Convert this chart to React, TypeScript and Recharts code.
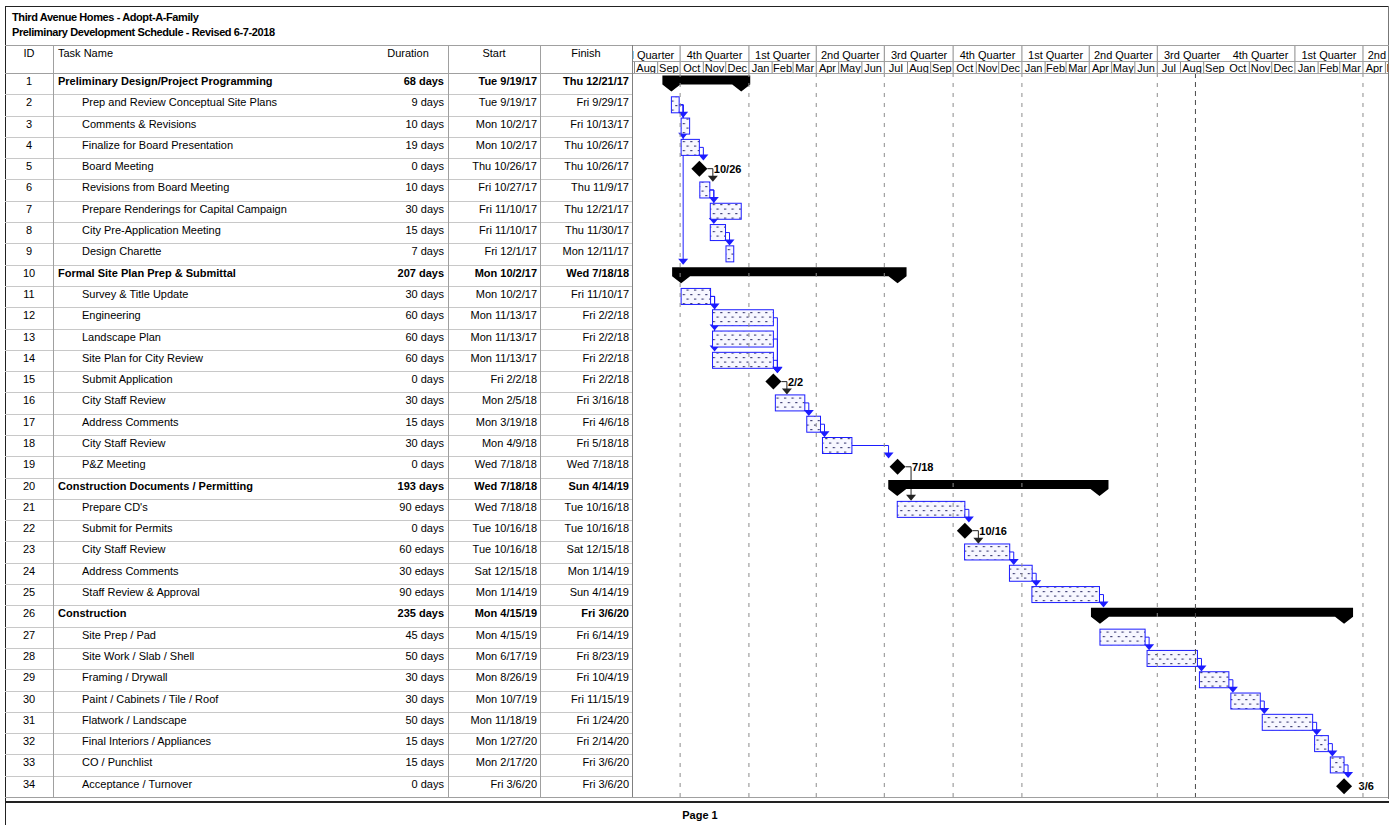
import React from 'react';
import { BarChart, Bar, XAxis, YAxis, ReferenceLine } from 'recharts';

const FONT = '"Liberation Sans", Arial, Helvetica, sans-serif';

const titleLines = ['Third Avenue Homes - Adopt-A-Family', 'Preliminary Development Schedule - Revised 6-7-2018'];
const columnHeaders = ['ID', 'Task Name', 'Duration', 'Start', 'Finish'];
const footerText = 'Page 1';

const taskIds = [1, 2, 3, 4, 5, 6, 7, 8, 9, 10, 11, 12, 13, 14, 15, 16, 17, 18, 19, 20, 21, 22, 23, 24, 25, 26, 27, 28, 29, 30, 31, 32, 33, 34];

const taskNames = [
  'Preliminary Design/Project Programming',
  'Prep and Review Conceptual Site Plans',
  'Comments & Revisions',
  'Finalize for Board Presentation',
  'Board Meeting',
  'Revisions from Board Meeting',
  'Prepare Renderings for Capital Campaign',
  'City Pre-Application Meeting',
  'Design Charette',
  'Formal Site Plan Prep & Submittal',
  'Survey & Title Update',
  'Engineering',
  'Landscape Plan',
  'Site Plan for City Review',
  'Submit Application',
  'City Staff Review',
  'Address Comments',
  'City Staff Review',
  'P&Z Meeting',
  'Construction Documents / Permitting',
  "Prepare CD's",
  'Submit for Permits',
  'City Staff Review',
  'Address Comments',
  'Staff Review & Approval',
  'Construction',
  'Site Prep / Pad',
  'Site Work / Slab / Shell',
  'Framing / Drywall',
  'Paint / Cabinets / Tile / Roof',
  'Flatwork / Landscape',
  'Final Interiors / Appliances',
  'CO / Punchlist',
  'Acceptance / Turnover',
];

const taskKinds = [
  'summary', 'task', 'task', 'task', 'milestone', 'task', 'task', 'task', 'task',
  'summary', 'task', 'task', 'task', 'task', 'milestone', 'task', 'task', 'task', 'milestone',
  'summary', 'task', 'milestone', 'task', 'task', 'task',
  'summary', 'task', 'task', 'task', 'task', 'task', 'task', 'task', 'milestone',
];

const durations = [
  '68 days', '9 days', '10 days', '19 days', '0 days', '10 days', '30 days', '15 days', '7 days',
  '207 days', '30 days', '60 days', '60 days', '60 days', '0 days', '30 days', '15 days', '30 days', '0 days',
  '193 days', '90 edays', '0 days', '60 edays', '30 edays', '90 edays',
  '235 days', '45 days', '50 days', '30 days', '30 days', '50 days', '15 days', '15 days', '0 days',
];

const startLabels = [
  'Tue 9/19/17', 'Tue 9/19/17', 'Mon 10/2/17', 'Mon 10/2/17', 'Thu 10/26/17', 'Fri 10/27/17', 'Fri 11/10/17', 'Fri 11/10/17', 'Fri 12/1/17',
  'Mon 10/2/17', 'Mon 10/2/17', 'Mon 11/13/17', 'Mon 11/13/17', 'Mon 11/13/17', 'Fri 2/2/18', 'Mon 2/5/18', 'Mon 3/19/18', 'Mon 4/9/18', 'Wed 7/18/18',
  'Wed 7/18/18', 'Wed 7/18/18', 'Tue 10/16/18', 'Tue 10/16/18', 'Sat 12/15/18', 'Mon 1/14/19',
  'Mon 4/15/19', 'Mon 4/15/19', 'Mon 6/17/19', 'Mon 8/26/19', 'Mon 10/7/19', 'Mon 11/18/19', 'Mon 1/27/20', 'Mon 2/17/20', 'Fri 3/6/20',
];

const finishLabels = [
  'Thu 12/21/17', 'Fri 9/29/17', 'Fri 10/13/17', 'Thu 10/26/17', 'Thu 10/26/17', 'Thu 11/9/17', 'Thu 12/21/17', 'Thu 11/30/17', 'Mon 12/11/17',
  'Wed 7/18/18', 'Fri 11/10/17', 'Fri 2/2/18', 'Fri 2/2/18', 'Fri 2/2/18', 'Fri 2/2/18', 'Fri 3/16/18', 'Fri 4/6/18', 'Fri 5/18/18', 'Wed 7/18/18',
  'Sun 4/14/19', 'Tue 10/16/18', 'Tue 10/16/18', 'Sat 12/15/18', 'Mon 1/14/19', 'Sun 4/14/19',
  'Fri 3/6/20', 'Fri 6/14/19', 'Fri 8/23/19', 'Fri 10/4/19', 'Fri 11/15/19', 'Fri 1/24/20', 'Fri 2/14/20', 'Fri 3/6/20', 'Fri 3/6/20',
];

// finish-to-start links: [predecessor id, successor id]
const links: Array<[number, number]> = [
  [2, 3], [2, 4], [2, 10], [4, 5], [5, 6], [6, 7], [6, 8], [8, 9],
  [11, 12], [11, 13], [11, 14], [12, 15], [13, 15], [14, 15], [15, 16], [16, 17], [17, 18], [18, 19],
  [19, 21], [21, 22], [22, 23], [23, 24], [24, 25], [25, 26],
  [27, 28], [28, 29], [29, 30], [30, 31], [31, 32], [32, 33], [33, 34],
];

// timescale
const domainStartLabel = '7/30/17';
const domainEndLabel = '7/17/20';
const monthStarts = [
  '8/1/17', '9/1/17', '10/1/17', '11/1/17', '12/1/17',
  '1/1/18', '2/1/18', '3/1/18', '4/1/18', '5/1/18', '6/1/18', '7/1/18', '8/1/18', '9/1/18', '10/1/18', '11/1/18', '12/1/18',
  '1/1/19', '2/1/19', '3/1/19', '4/1/19', '5/1/19', '6/1/19', '7/1/19', '8/1/19', '9/1/19', '10/1/19', '11/1/19', '12/1/19',
  '1/1/20', '2/1/20', '3/1/20', '4/1/20', '5/1/20', '6/1/20', '7/1/20',
];
const monthNames = ['Jan', 'Feb', 'Mar', 'Apr', 'May', 'Jun', 'Jul', 'Aug', 'Sep', 'Oct', 'Nov', 'Dec'];
const quarterNames = ['1st Quarter', '2nd Quarter', '3rd Quarter', '4th Quarter'];
const hiddenDividers = ['10/1/19'];
const gridLineDates = ['10/1/17', '1/1/18', '4/1/18', '7/1/18', '10/1/18', '1/1/19', '7/1/19', '4/1/20'];
const pageBreakDate = '8/21/19';

function dayOf(label: string): number {
  const parts = label.trim().split(' ');
  const [m, d, y] = parts[parts.length - 1].split('/').map(Number);
  return Date.UTC(2000 + y, m - 1, d) / 86400000;
}

const D0 = dayOf(domainStartLabel);
const D1 = dayOf(domainEndLabel);
const key = (v: number) => Math.round(v * 1000);

type TickInfo = { kind: 'start'; quarter: boolean; hidden: boolean } | { kind: 'mid'; label: string; quarterLabel: string | null };
const tickInfo = new Map<number, TickInfo>();
const tickValues: number[] = [];
monthStarts.forEach((s, i) => {
  const v = dayOf(s);
  const m = Number(s.split('/')[0]);
  const hidden = hiddenDividers.includes(s);
  tickValues.push(v);
  tickInfo.set(key(v), { kind: 'start', quarter: (m - 1) % 3 === 0, hidden });
  if (i < monthStarts.length - 1) {
    const mid = (v + dayOf(monthStarts[i + 1])) / 2;
    tickValues.push(mid);
    tickInfo.set(key(mid), {
      kind: 'mid',
      label: monthNames[m - 1],
      quarterLabel: (m - 1) % 3 === 1 ? quarterNames[Math.floor((m - 1) / 3)] : null,
    });
  }
});
const gridDays = gridLineDates.map(dayOf);
const pageBreakDay = dayOf(pageBreakDate);

// layout constants
const TABLE_TOP = 73;
const TABLE_BOTTOM = 797;
const ROW_H = (TABLE_BOTTOM - TABLE_TOP) / taskIds.length;

type Out = { offset: number; succPos: number; succKind: string };
const rows = taskIds.map((id, i) => {
  const kind = taskKinds[i];
  const s = dayOf(startLabels[i]) + 0.33;
  const f = dayOf(finishLabels[i]) + 0.71;
  return {
    id: String(id),
    idx: i,
    kind,
    start: kind === 'milestone' ? f : s,
    finish: f,
    range: kind === 'milestone' ? [f, f] : [s, f],
    label: finishLabels[i].split(' ')[1].split('/').slice(0, 2).join('/'),
    outs: [] as Out[],
  };
});
links.forEach(([p, q]) => {
  const pi = taskIds.indexOf(p);
  const qi = taskIds.indexOf(q);
  rows[pi].outs.push({ offset: qi - pi, succPos: rows[qi].start, succKind: rows[qi].kind });
});

const BLUE = '#1c1cff';

function RowShape(props: any) {
  const { x, y, width, height, payload } = props;
  if (x == null || y == null || !payload) return <g />;
  const rowH = height;
  const cy = y + rowH / 2;
  const kind = payload.kind;
  const linkEls = (payload.outs as Out[]).map((o, k) => {
    const tipY = y + o.offset * rowH + 2.5;
    let sx: number;
    let vx: number;
    let color: string;
    if (kind === 'milestone') {
      sx = x + 8;
      vx = x + 13.5;
      color = '#222';
    } else {
      sx = x + width;
      const ppd = width / (payload.finish - payload.start);
      const succX = x + (o.succPos - payload.start) * ppd;
      vx = Math.max(sx + 4, succX + (o.succKind === 'milestone' ? -9 : 2));
      color = BLUE;
    }
    return (
      <g key={k}>
        <path d={`M${sx},${cy} H${vx} V${tipY - 5}`} stroke={color} strokeWidth={1} fill="none" />
        <polygon points={`${vx - 5},${tipY - 6} ${vx + 5},${tipY - 6} ${vx},${tipY}`} fill={color} />
      </g>
    );
  });

  let mark: React.ReactNode = null;
  if (kind === 'summary') {
    const x2 = x + width;
    const t = y + 2.5;
    const b = t + 9;
    const a = y + 18.5;
    mark = (
      <polygon
        points={`${x - 9},${t} ${x2 + 9},${t} ${x2 + 9},${b} ${x2},${a} ${x2 - 9},${b} ${x + 9},${b} ${x},${a} ${x - 9},${b}`}
        fill="#000"
      />
    );
  } else if (kind === 'milestone') {
    mark = (
      <g>
        <polygon points={`${x},${cy - 8} ${x + 8},${cy} ${x},${cy + 8} ${x - 8},${cy}`} fill="#000" />
        <text x={x + 14.5} y={cy + 4} fontFamily={FONT} fontSize={11} fontWeight="bold" fill="#000">
          {payload.label}
        </text>
      </g>
    );
  } else {
    mark = (
      <rect x={x} y={cy - 8} width={width} height={16} fill="url(#taskDots)" stroke={BLUE} strokeWidth={1} />
    );
  }
  return (
    <g>
      {mark}
      {linkEls}
    </g>
  );
}

function HeaderTick(props: any) {
  const { x, payload } = props;
  const info = tickInfo.get(key(payload.value));
  if (!info) return <g />;
  if (info.kind === 'start') {
    if (info.hidden) return <g />;
    return (
      <g>
        <line x1={x} x2={x} y1={16} y2={28} stroke="#8a8a8a" />
        {info.quarter && <line x1={x} x2={x} y1={0} y2={16} stroke="#8a8a8a" />}
      </g>
    );
  }
  return (
    <g>
      <text x={x} y={26.5} textAnchor="middle" fontFamily={FONT} fontSize={11} fill="#000">
        {info.label}
      </text>
      {info.quarterLabel && (
        <text x={x} y={14} textAnchor="middle" fontFamily={FONT} fontSize={11} fill="#000">
          {info.quarterLabel}
        </text>
      )}
    </g>
  );
}

function HLine({ x1, x2, y, color, h = 1 }: { x1: number; x2: number; y: number; color: string; h?: number }) {
  return <div style={{ position: 'absolute', left: x1, top: y, width: x2 - x1, height: h, background: color }} />;
}
function VLine({ x, y1, y2, color }: { x: number; y1: number; y2: number; color: string }) {
  return <div style={{ position: 'absolute', left: x, top: y1, width: 1, height: y2 - y1, background: color }} />;
}

const cellBase: React.CSSProperties = {
  position: 'absolute',
  fontFamily: FONT,
  fontSize: 11,
  lineHeight: '16px',
  whiteSpace: 'nowrap',
  color: '#000',
};

export default function App() {
  return (
    <div style={{ position: 'absolute', left: 0, top: 0, width: 1390, height: 825, background: '#fff', overflow: 'hidden' }}>
      {/* title */}
      <div style={{ ...cellBase, left: 12, top: 9, fontWeight: 'bold', letterSpacing: '-0.4px' }}>{titleLines[0]}</div>
      <div style={{ ...cellBase, left: 12, top: 23.5, fontWeight: 'bold', letterSpacing: '-0.4px' }}>{titleLines[1]}</div>

      {/* column headers */}
      <div style={{ ...cellBase, left: 5, top: 45, width: 48, textAlign: 'center' }}>{columnHeaders[0]}</div>
      <div style={{ ...cellBase, left: 58, top: 45 }}>{columnHeaders[1]}</div>
      <div style={{ ...cellBase, left: 368, top: 45, width: 80, textAlign: 'center' }}>{columnHeaders[2]}</div>
      <div style={{ ...cellBase, left: 448, top: 45, width: 92, textAlign: 'center' }}>{columnHeaders[3]}</div>
      <div style={{ ...cellBase, left: 540, top: 45, width: 92, textAlign: 'center' }}>{columnHeaders[4]}</div>

      {/* table rows */}
      {rows.map((r, i) => {
        const top = TABLE_TOP + i * ROW_H;
        const bold = r.kind === 'summary' ? 'bold' : 'normal';
        return (
          <React.Fragment key={r.id}>
            <div style={{ ...cellBase, left: 5, top, width: 48, textAlign: 'center' }}>{r.id}</div>
            <div style={{ ...cellBase, left: r.kind === 'summary' ? 58 : 82, top, fontWeight: bold }}>{taskNames[i]}</div>
            <div style={{ ...cellBase, left: 370, top, width: 74, textAlign: 'right', fontWeight: bold }}>{durations[i]}</div>
            <div style={{ ...cellBase, left: 448, top, width: 89, textAlign: 'right', fontWeight: bold }}>{startLabels[i]}</div>
            <div style={{ ...cellBase, left: 540, top, width: 89, textAlign: 'right', fontWeight: bold }}>{finishLabels[i]}</div>
          </React.Fragment>
        );
      })}

      {/* gantt chart */}
      <div style={{ position: 'absolute', left: 633, top: 45, width: 755, height: 752, overflow: 'hidden' }}>
        <BarChart
          width={810}
          height={752}
          data={rows}
          layout="vertical"
          margin={{ top: 0, right: 0, bottom: 0, left: 0 }}
          barCategoryGap={0}
          barGap={0}
        >
          <defs>
            <pattern id="taskDots" width="7.5" height="9" patternUnits="userSpaceOnUse">
              <rect width="7.5" height="9" fill="#f7f7ff" />
              <rect x="1" y="1.5" width="2.2" height="1.2" fill="#45457a" />
              <rect x="4.75" y="6" width="2.2" height="1.2" fill="#45457a" />
            </pattern>
          </defs>
          <XAxis
            type="number"
            orientation="top"
            height={28}
            domain={[D0, D1]}
            ticks={tickValues}
            interval={0}
            tick={(p: any) => <HeaderTick {...p} />}
            axisLine={false}
            tickLine={false}
          />
          <YAxis type="category" dataKey="id" hide />
          {gridDays.map((d) => (
            <ReferenceLine key={d} x={d} stroke="#8c8c8c" strokeDasharray="4 6" />
          ))}
          <ReferenceLine x={pageBreakDay} stroke="#4a4a4a" strokeDasharray="5 4" />
          <Bar dataKey="range" isAnimationActive={false} shape={(p: any) => <RowShape {...p} />} />
        </BarChart>
      </div>

      {/* frame and grid lines */}
      <HLine x1={5} x2={1389} y={6} color="#222" />
      <VLine x={5} y1={6} y2={825} color="#222" />
      <VLine x={1388} y1={6} y2={799} color="#777" />
      <HLine x1={5} x2={1389} y={45} color="#a0a0a0" />
      <HLine x1={633} x2={1388} y={61} color="#a0a0a0" />
      <HLine x1={5} x2={1388} y={73} color="#a0a0a0" />
      {rows.slice(1).map((r, i) => (
        <HLine key={r.id} x1={5} x2={632} y={Math.round(TABLE_TOP + (i + 1) * ROW_H)} color="#c8c8c8" />
      ))}
      <HLine x1={5} x2={1388} y={797} color="#a0a0a0" />
      <HLine x1={5} x2={1389} y={801} color="#222" h={2} />
      <VLine x={53} y1={45} y2={797} color="#a0a0a0" />
      <VLine x={448} y1={45} y2={797} color="#a0a0a0" />
      <VLine x={540} y1={45} y2={797} color="#a0a0a0" />
      <VLine x={632} y1={45} y2={797} color="#808080" />

      {/* footer */}
      <div style={{ ...cellBase, left: 0, width: 1400, top: 807, textAlign: 'center', fontWeight: 'bold' }}>{footerText}</div>
    </div>
  );
}
